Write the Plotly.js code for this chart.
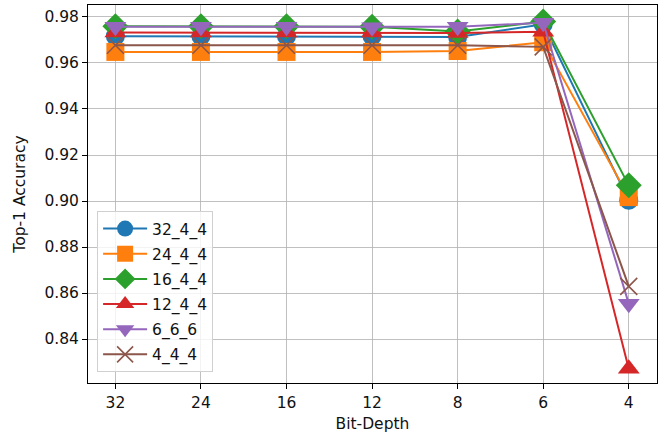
<!DOCTYPE html>
<html><head><meta charset="utf-8">
<script src="https://cdn.plot.ly/plotly-3.0.1.min.js"></script>
<style>html,body{margin:0;padding:0;background:#fff}#c{width:672px;height:436px}</style>
</head><body><div id="c"></div>
<script>
const bitDepths = ['32','24','16','12','8','6','4'];
const s32_4_4 = [0.9716,0.9716,0.9716,0.9716,0.9713,0.9768,0.9003];
const s24_4_4 = [0.9648,0.9648,0.9648,0.9648,0.9652,0.9690,0.9017];
const s16_4_4 = [0.9760,0.9760,0.9760,0.9758,0.9737,0.9780,0.9068];
const s12_4_4 = [0.9732,0.9732,0.9732,0.9732,0.9730,0.9736,0.8271];
const s6_6_6  = [0.9757,0.9757,0.9757,0.9755,0.9757,0.9775,0.8554];
const s4_4_4  = [0.9677,0.9677,0.9677,0.9677,0.9677,0.9670,0.8629];
const names = ['32_4_4','24_4_4','16_4_4','12_4_4','6_6_6','4_4_4'];
const series = [s32_4_4,s24_4_4,s16_4_4,s12_4_4,s6_6_6,s4_4_4];
const colors = ['#1f77b4','#ff7f0e','#2ca02c','#d62728','#9467bd','#8c564b'];
const symbols = ['circle','square','diamond','triangle-up','triangle-down','x-thin'];
const sizes = [19,18,20,19,19,17];

const traces = series.map((y,i)=>({
  x: bitDepths, y: y, name: names[i], type:'scatter', mode:'lines+markers',
  legendgroup: 'g'+i,
  line:{color:colors[i], width:2},
  marker:{symbol:symbols[i], size:sizes[i], color:colors[i],
    line: symbols[i]==='x-thin' ? {color:colors[i], width:1.6} : {width:0}}
}));

const layout = {
  width:672, height:436,
  margin:{l:88, r:15, t:5, b:53},
  paper_bgcolor:'#fff', plot_bgcolor:'#fff',
  font:{family:'DejaVu Sans', size:15.5, color:'#111'},
  showlegend:true,
  legend:{x:0.016, y:0.455, xanchor:'left', yanchor:'top',
    bgcolor:'rgba(255,255,255,0.8)', bordercolor:'#d0d0d0', borderwidth:1,
    font:{size:15.5, color:'#111'}, tracegroupgap:2, itemwidth:44},
  xaxis:{type:'category', range:[-0.32,6.33], showgrid:true, gridcolor:'#b0b0b0', gridwidth:0.8,
    showline:true, linecolor:'#000', linewidth:1, mirror:true, ticks:'outside', ticklen:5, tickcolor:'#000',
    tickfont:{size:15.5},
    zeroline:false, title:{text:'Bit-Depth', font:{size:15.5}, standoff:7}},
  yaxis:{range:[0.8209,0.9852], showgrid:true, gridcolor:'#b0b0b0', gridwidth:0.8,
    tickvals:[0.84,0.86,0.88,0.90,0.92,0.94,0.96,0.98], tickformat:'.2f',
    showline:true, linecolor:'#000', linewidth:1, mirror:true, ticks:'outside', ticklen:5, tickcolor:'#000',
    tickfont:{size:15.5},
    zeroline:false, title:{text:'Top-1 Accuracy', font:{size:15.5}, standoff:14}}
};
Plotly.newPlot('c', traces, layout, {displayModeBar:false, staticPlot:true});
</script></body></html>
